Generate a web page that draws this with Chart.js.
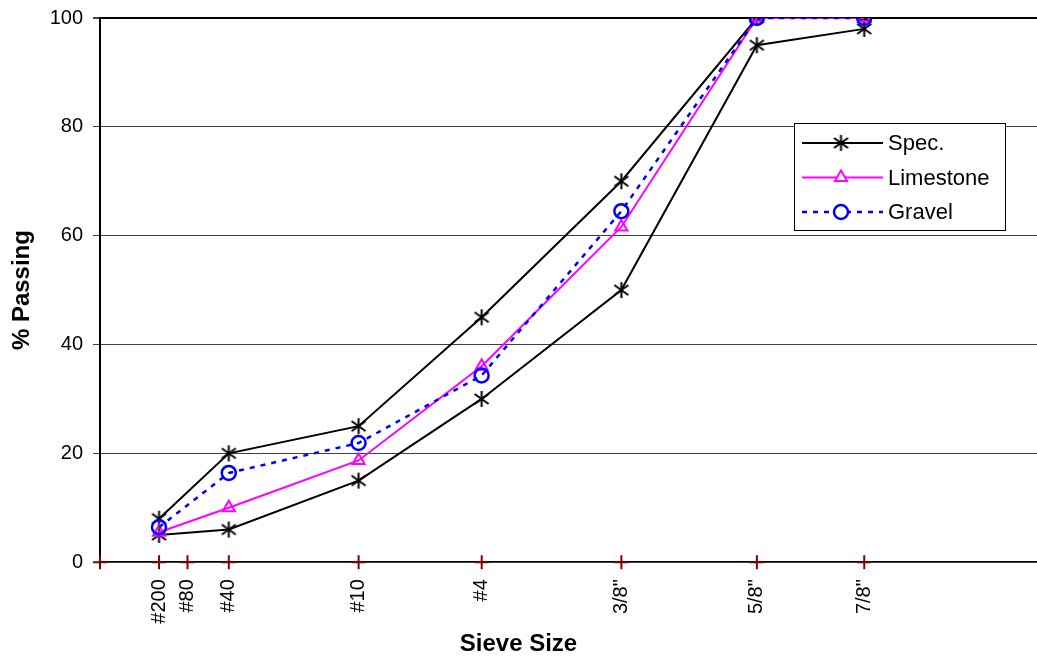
<!DOCTYPE html>
<html>
<head>
<meta charset="utf-8">
<script src="https://cdn.jsdelivr.net/npm/chart.js@4"></script>
<style>
  html, body { margin: 0; padding: 0; background: #fff; }
</style>
</head>
<body>
<canvas id="chart" width="1037" height="660"></canvas>
<script>
// sieve sizes, plotted on the 0.45 power scale
const sieveLabels = [ '#200', '#80', '#40', '#10', '#4', '3/8"', '5/8"', '7/8"' ]
const sieveMm = [ 0.075, 0.18, 0.425, 2.0, 4.75, 9.5, 15.875, 22.225 ]
const axisMarksMm = [ 0, 0.075, 0.18, 0.425, 2.0, 4.75, 9.5, 15.875, 22.225 ]

// % passing, null where no sieve reading
const specUpper = [ 8, null, 20, 25, 45, 70, 100, 100 ]
const specLower = [ 5, null, 6, 15, 30, 50, 95, 98 ]
const limestone = [ 5.5, null, 10, 18.7, 36, 61.6, 100, 100 ]
const gravel = [ 6.4, null, 16.4, 21.9, 34.3, 64.5, 100, 100 ]

const POWER = 0.45
const pos = ( mm ) => Math.pow( mm, POWER )

const points = ( values ) => values
  .map( ( y, i ) => ( { x: pos( sieveMm[ i ] ), y: y } ) )
  .filter( p => p.y !== null )

Chart.defaults.font.family = '"Liberation Sans", Arial, sans-serif'
Chart.defaults.color = '#000'

// six arm asterisk like the old excel marker
const star = document.createElement( 'canvas' )
star.width = 17
star.height = 18
{
  const c = star.getContext( '2d' )
  c.strokeStyle = '#000'
  c.lineWidth = 2
  c.beginPath()
  c.moveTo( 8.5, 1 ); c.lineTo( 8.5, 17 )
  c.moveTo( 1.5, 4 ); c.lineTo( 15.5, 14 )
  c.moveTo( 15.5, 4 ); c.lineTo( 1.5, 14 )
  c.stroke()
}

// red + marks on the sieve axis
const mark = document.createElement( 'canvas' )
mark.width = 16
mark.height = 16
{
  const c = mark.getContext( '2d' )
  c.strokeStyle = '#800000'
  c.lineWidth = 2
  c.beginPath()
  c.moveTo( 8, 1 ); c.lineTo( 8, 15 )
  c.moveTo( 1, 8 ); c.lineTo( 15, 8 )
  c.stroke()
}

const boxLegend = {
  id: 'boxLegend',
  afterDatasetsDraw( chart ) {
    const ctx = chart.ctx
    const items = chart.data.datasets.filter( d => d.inLegend )
    ctx.save()
    ctx.fillStyle = '#fff'
    ctx.strokeStyle = '#000'
    ctx.lineWidth = 1
    ctx.fillRect( 794.5, 123.5, 211, 107 )
    ctx.strokeRect( 794.5, 123.5, 211, 107 )
    items.forEach( ( d, i ) => {
      const y = 143 + i * 34.5
      ctx.strokeStyle = d.borderColor
      ctx.lineWidth = d.borderWidth
      ctx.setLineDash( d.borderDash || [ ] )
      ctx.beginPath()
      ctx.moveTo( 802, y )
      ctx.lineTo( 883, y )
      ctx.stroke()
      ctx.setLineDash( [ ] )
      ctx.fillStyle = '#fff'
      ctx.lineWidth = d.pointBorderWidth
      Chart.helpers.drawPoint( ctx, {
        pointStyle: d.pointStyle,
        radius: d.pointRadius,
        borderWidth: d.pointBorderWidth,
        rotation: 0
      }, 841, y )
      ctx.fillStyle = '#000'
      ctx.font = '22px "Liberation Sans", Arial, sans-serif'
      ctx.textBaseline = 'middle'
      ctx.fillText( d.label, 888, y + 1 )
    } )
    ctx.restore()
  }
}

new Chart( document.getElementById( 'chart' ), {
  type: 'line',
  data: {
    datasets: [
      {
        label: 'Spec.',
        inLegend: true,
        order: 2,
        data: points( specUpper ),
        borderColor: '#000',
        borderWidth: 2,
        pointStyle: star,
        pointRadius: 8,
        pointBorderWidth: 2
      },
      {
        label: 'Limestone',
        inLegend: true,
        order: 1,
        data: points( limestone ),
        borderColor: '#ff00ff',
        borderWidth: 2,
        pointStyle: 'triangle',
        pointRadius: 7,
        pointBorderWidth: 2,
        pointBorderColor: '#ff00ff',
        pointBackgroundColor: 'rgba(0,0,0,0)'
      },
      {
        label: 'Gravel',
        inLegend: true,
        order: 0,
        data: points( gravel ),
        borderColor: '#0000ff',
        borderWidth: 2.5,
        borderDash: [ 5, 6 ],
        pointStyle: 'circle',
        pointRadius: 7,
        pointBorderWidth: 2.5,
        pointBorderColor: '#0000ff',
        pointBackgroundColor: 'rgba(0,0,0,0)'
      },
      {
        label: 'Spec. lower',
        order: 2,
        data: points( specLower ),
        borderColor: '#000',
        borderWidth: 2,
        pointStyle: star,
        pointRadius: 8
      },
      {
        label: 'marks',
        order: 3,
        data: axisMarksMm.map( mm => ( { x: pos( mm ), y: 0 } ) ),
        showLine: false,
        clip: false,
        pointStyle: mark,
        pointRadius: 8
      }
    ]
  },
  options: {
    responsive: false,
    animation: false,
    events: [ ],
    layout: { autoPadding: false, padding: { top: 18, right: 0, left: 0, bottom: 0 } },
    plugins: {
      legend: { display: false },
      tooltip: { enabled: false },
      title: {
        display: true,
        position: 'bottom',
        text: 'Sieve Size',
        font: { size: 24, weight: 'bold' },
        padding: { top: 0, bottom: 1 }
      }
    },
    scales: {
      x: {
        type: 'linear',
        min: 0,
        max: 4.95,
        afterBuildTicks: ( scale ) => {
          scale.ticks = sieveMm.map( mm => ( { value: pos( mm ) } ) )
        },
        afterFit: ( scale ) => { scale.height = 68 },
        grid: { display: false, drawTicks: false },
        border: { display: true, color: '#000', width: 2, z: -1 },
        ticks: {
          autoSkip: false,
          minRotation: 90,
          maxRotation: 90,
          padding: 17,
          font: { size: 20 },
          callback: ( value, index ) => sieveLabels[ index ]
        }
      },
      y: {
        min: 0,
        max: 100,
        afterFit: ( scale ) => {
          scale.width = 100
          scale.paddingTop = 0
          scale.paddingBottom = 0
        },
        border: { display: true, color: '#000', width: 2, z: -1 },
        grid: {
          color: ( ctx ) => ctx.tick && ctx.tick.value === 100 ? '#000' : '#404040',
          lineWidth: ( ctx ) => ctx.tick && ctx.tick.value === 100 ? 2 : 1,
          tickLength: 7,
          tickColor: '#404040'
        },
        ticks: { stepSize: 20, padding: 10, font: { size: 20 } },
        title: {
          display: true,
          text: '% Passing',
          font: { size: 24, weight: 'bold' },
          padding: { top: 8, bottom: 0 }
        }
      }
    }
  },
  plugins: [ boxLegend ]
} )
</script>
</body>
</html>
